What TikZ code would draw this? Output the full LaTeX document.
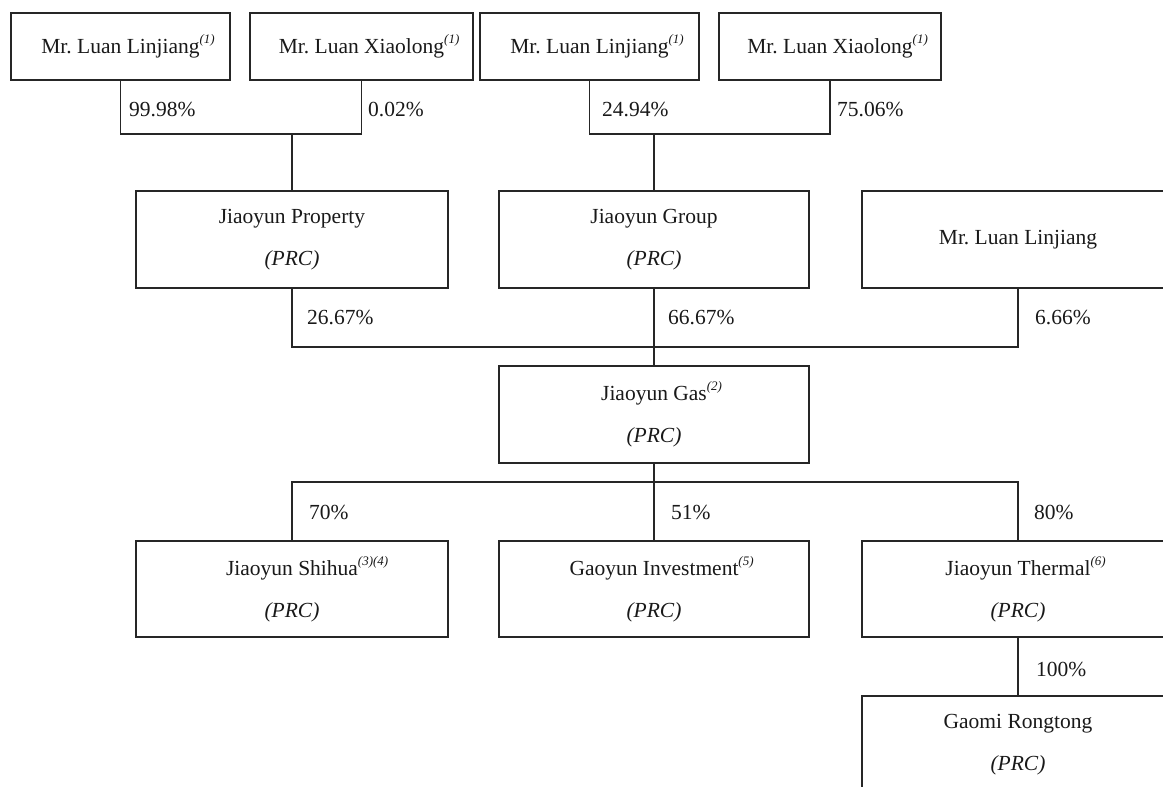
\documentclass[tikz,border=0pt]{standalone}
\usepackage{fontspec}
\setmainfont{Liberation Serif}
\newcommand\fnref[1]{\rlap{\raisebox{10pt}{\fontsize{13}{13}\selectfont\itshape #1}}}
\begin{document}
\begin{tikzpicture}[x=1pt,y=-1pt,
  box/.style={draw=black!85, line width=1.1pt, minimum height=97pt, inner sep=0pt, outer sep=0pt,
    align=center, font=\fontsize{21.5}{42}\selectfont, text=black!90},
  topbox/.style={box, minimum height=67pt},
  pct/.style={anchor=west, inner sep=0pt, font=\fontsize{21.5}{25}\selectfont, text=black!90},
  link/.style={draw=black!85, line width=1.1pt}]
\useasboundingbox (0,0) rectangle (1163,787);
\clip (0,0) rectangle (1163,787);
% top owners
\node[topbox, minimum width=219pt] (t1) at (120.5,46.5) {Mr.\ Luan Linjiang\fnref{(1)}};
\node[topbox, minimum width=223pt] (t2) at (361.5,46.5) {Mr.\ Luan Xiaolong\fnref{(1)}};
\node[topbox, minimum width=219pt] (t3) at (589.5,46.5) {Mr.\ Luan Linjiang\fnref{(1)}};
\node[topbox, minimum width=222pt] (t4) at (830,46.5) {Mr.\ Luan Xiaolong\fnref{(1)}};
% middle row
\node[box, minimum width=312pt] (prop) at (292,239.5) {Jiaoyun Property\\\textit{(PRC)}};
\node[box, minimum width=310pt] (grp) at (654,239.5) {Jiaoyun Group\\\textit{(PRC)}};
\node[box, minimum width=312pt] (lin) at (1018,239.5) {Mr.\ Luan Linjiang};
% gas
\node[box, minimum width=310pt] (gas) at (654,414.5) {Jiaoyun Gas\fnref{(2)}\\\textit{(PRC)}};
% subsidiaries
\node[box, minimum width=312pt, minimum height=96pt] (shi) at (292,589) {Jiaoyun Shihua\fnref{(3)(4)}\\\textit{(PRC)}};
\node[box, minimum width=310pt, minimum height=96pt] (gao) at (654,589) {Gaoyun Investment\fnref{(5)}\\\textit{(PRC)}};
\node[box, minimum width=312pt, minimum height=96pt] (the) at (1018,589) {Jiaoyun Thermal\fnref{(6)}\\\textit{(PRC)}};
\node[box, minimum width=312pt] (gaomi) at (1018,744.5) {Gaomi Rongtong\\\textit{(PRC)}};
% junctions
\coordinate (j1) at (292,134);
\coordinate (j2) at (654,134);
\coordinate (j3) at (654,347);
\coordinate (j4) at (654,482);
% connectors
\draw[link] (t1.south) |- (j1);
\draw[link] (t2.south) |- (j1);
\draw[link] (j1) -- (prop.north);
\draw[link] (t3.south) |- (j2);
\draw[link] (t4.south) |- (j2);
\draw[link] (j2) -- (grp.north);
\draw[link] (prop.south) |- (j3);
\draw[link] (lin.south) |- (j3);
\draw[link] (grp.south) -- (gas.north);
\draw[link] (gas.south) -- (gao.north);
\draw[link] (shi.north) |- (j4);
\draw[link] (the.north) |- (j4);
\draw[link] (the.south) -- (gaomi.north);
% percentages
\node[pct] (p1) at (129,110) {99.98\%};
\node[pct] (p2) at (368,110) {0.02\%};
\node[pct] (p3) at (602,110) {24.94\%};
\node[pct] (p4) at (837,110) {75.06\%};
\node[pct] (p5) at (307,318) {26.67\%};
\node[pct] (p6) at (668,318) {66.67\%};
\node[pct] (p7) at (1035,318) {6.66\%};
\node[pct] (p8) at (309,512) {70\%};
\node[pct] (p9) at (671,512) {51\%};
\node[pct] (p10) at (1034,512) {80\%};
\node[pct] (p11) at (1036,669) {100\%};
\end{tikzpicture}
\end{document}
